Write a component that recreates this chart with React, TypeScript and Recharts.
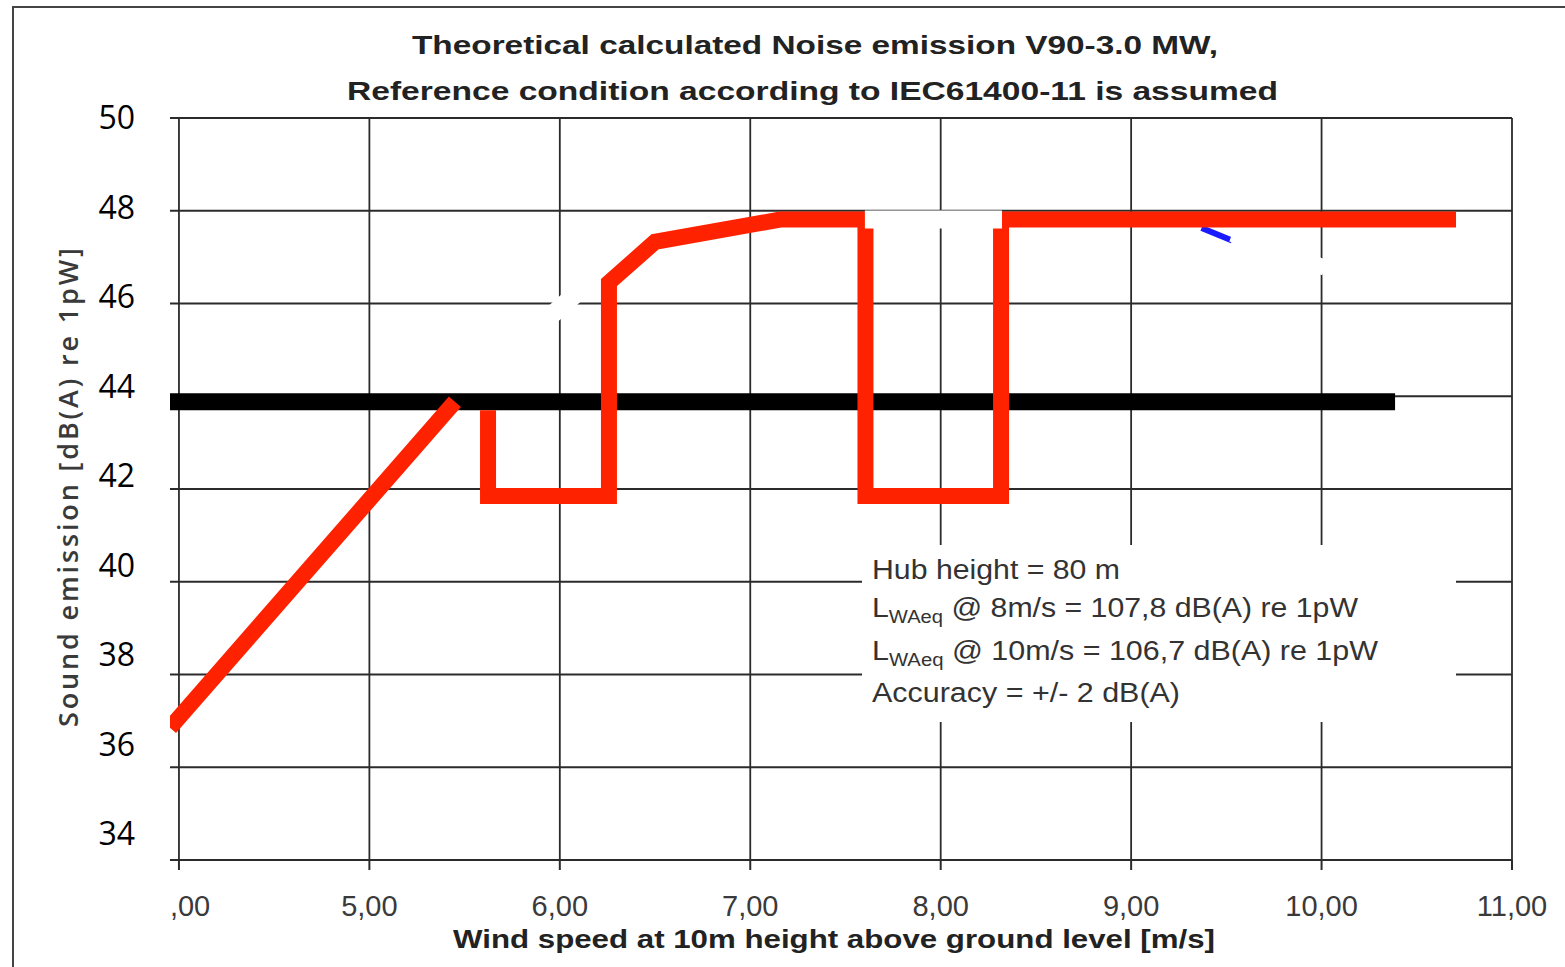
import React from 'react';
import { LineChart, Line, XAxis, YAxis, CartesianGrid } from 'recharts';

// ---- Data ----
const xTicks = [4, 5, 6, 7, 8, 9, 10, 11];
const xTickLabels = [',00', '5,00', '6,00', '7,00', '8,00', '9,00', '10,00', '11,00'];
const yTicks = [34, 36, 38, 40, 42, 44, 46, 48, 50];
const yTickLabels = ['34', '36', '38', '40', '42', '44', '46', '48', '50'];

// red (modified operation) curve, null = break
const noiseCurve = [
  { x: 3.953, y: 36.85 },
  { x: 5.449, y: 43.88 },
  { x: 5.5, y: null },
  { x: 5.623, y: 43.7 },
  { x: 5.623, y: 41.85 },
  { x: 6.258, y: 41.85 },
  { x: 6.258, y: 46.45 },
  { x: 6.5, y: 47.33 },
  { x: 7.156, y: 47.81 },
  { x: 7.605, y: 47.81 },
  { x: 7.605, y: 41.85 },
  { x: 8.317, y: 41.85 },
  { x: 8.317, y: 47.81 },
  { x: 10.706, y: 47.81 },
];
// black limit line
const limitLine = [
  { x: 3.953, y: 43.88 },
  { x: 10.386, y: 43.88 },
];
// remnant of the original (blue) curve
const originalCurveTrace = [
  { x: 9.37, y: 47.63 },
  { x: 9.53, y: 47.36 },
];
// white erasures over the original curve
const erasedLow = [
  { x: 5.764, y: 45.06 },
  { x: 6.211, y: 46.66 },
];
const erasedHigh = [
  { x: 9.53, y: 47.5 },
  { x: 10.018, y: 46.77 },
];
const erasedTop = [
  { x: 7.602, y: 47.81 },
  { x: 8.322, y: 47.81 },
];

const titleLines = [
  'Theoretical calculated Noise emission V90-3.0 MW,',
  'Reference condition according to IEC61400-11 is assumed',
];
const xLabel = 'Wind speed at 10m height above ground level [m/s]';
const yLabel = 'Sound emission [dB(A) re 1pW]';
const annotation = {
  hub: 'Hub height = 80 m',
  lw8: ' @ 8m/s = 107,8 dB(A) re 1pW',
  lw10: ' @ 10m/s = 106,7 dB(A) re 1pW',
  acc: 'Accuracy = +/- 2 dB(A)',
  sym: 'L',
  sub: 'WAeq',
};

const XTick = (props: any) => {
  const { x, y, payload } = props;
  const idx = xTicks.indexOf(payload.value);
  const label = idx >= 0 ? xTickLabels[idx] : String(payload.value);
  const first = idx === 0;
  return (
    <text
      x={first ? x - 9 : x}
      y={y}
      dy="0.71em"
      textAnchor={first ? 'start' : 'middle'}
      fontSize={29}
      fill="#3a3a3a"
      fontFamily="'Liberation Sans', Arial, sans-serif"
    >
      {label}
    </text>
  );
};

// the y labels in the source were pasted with a slightly tighter pitch than the grid
const YTick = (props: any) => {
  const { x, y, payload } = props;
  const idx = yTicks.indexOf(payload.value);
  const label = idx >= 0 ? yTickLabels[idx] : String(payload.value);
  const shift = -(50 - payload.value) * 1.62;
  return (
    <text
      x={x}
      y={y + shift}
      dy="0.355em"
      textAnchor="end"
      fontSize={32}
      fill="#000"
      fontFamily="'Open Sans', 'Noto Sans', sans-serif"
    >
      {label}
    </text>
  );
};

const lineCommon = {
  type: 'linear' as const,
  dataKey: 'y',
  dot: false,
  activeDot: false,
  isAnimationActive: false,
  strokeLinecap: 'butt' as const,
  strokeLinejoin: 'miter' as const,
  legendType: 'none' as const,
};

export default function App() {
  const W = 1565;
  const H = 967;
  const yAxisW = 80;
  const xAxisH = 50;
  return (
    <div
      style={{
        position: 'absolute',
        left: 0,
        top: 0,
        width: W,
        height: H,
        background: '#fff',
        fontFamily: "'Liberation Sans', Arial, sans-serif",
      }}
    >
      <LineChart
        width={W}
        height={H}
        margin={{ top: 118, right: 53, bottom: 107 - xAxisH, left: 170 - yAxisW }}
      >
        <CartesianGrid stroke="#2b2b2b" strokeWidth={1.8} fill="#fff" syncWithTicks />
        <XAxis
          type="number"
          dataKey="x"
          domain={[3.953, 11]}
          allowDataOverflow
          ticks={xTicks}
          height={xAxisH}
          axisLine={{ stroke: '#2b2b2b', strokeWidth: 2 }}
          tickLine={{ stroke: '#2b2b2b', strokeWidth: 2 }}
          tickSize={10}
          tickMargin={25}
          tick={<XTick />}
          interval={0}
        />
        <YAxis
          type="number"
          domain={[34, 50]}
          allowDataOverflow
          ticks={yTicks}
          width={yAxisW}
          axisLine={false}
          tickLine={false}
          tickSize={0}
          tickMargin={35}
          interval={0}
          tick={<YTick />}
        />
        <Line {...lineCommon} data={originalCurveTrace} stroke="#1a1aff" strokeWidth={6} />
        <Line {...lineCommon} data={erasedLow} stroke="#ffffff" strokeWidth={18} />
        <Line {...lineCommon} data={erasedHigh} stroke="#ffffff" strokeWidth={16} />
        <Line {...lineCommon} data={limitLine} stroke="#000000" strokeWidth={17} />
        <Line {...lineCommon} data={noiseCurve} stroke="#ff2200" strokeWidth={16} connectNulls={false} />
        <Line {...lineCommon} data={erasedTop} stroke="#ffffff" strokeWidth={18} />
      </LineChart>

      <svg
        width={W}
        height={H}
        style={{ position: 'absolute', left: 0, top: 0, pointerEvents: 'none' }}
      >
        {/* outer frame */}
        <line x1={12} y1={7} x2={W} y2={7} stroke="#444" strokeWidth={2} />
        <line x1={13} y1={6} x2={13} y2={H} stroke="#444" strokeWidth={2} />

        {/* title */}
        <text x={412} y={54} fontSize={26} fontWeight="bold" fill="#222" textLength={806} lengthAdjust="spacingAndGlyphs">
          {titleLines[0]}
        </text>
        <text x={347} y={100} fontSize={26} fontWeight="bold" fill="#222" textLength={931} lengthAdjust="spacingAndGlyphs">
          {titleLines[1]}
        </text>

        {/* x label */}
        <text x={453} y={948} fontSize={26} fontWeight="bold" fill="#222" textLength={762} lengthAdjust="spacingAndGlyphs">
          {xLabel}
        </text>

        {/* y label */}
        <text
          transform="translate(78, 487.5) rotate(-90)"
          textAnchor="middle"
          fontSize={27}
          fontWeight={600}
          fill="#3a3a3a"
          fontFamily="'Open Sans', 'Noto Sans', sans-serif"
          textLength={479}
          lengthAdjust="spacing"
        >
          {yLabel}
        </text>

        {/* annotation box */}
        <rect x={862} y={545} width={594} height={177} fill="#fff" />
        <g fontSize={27} fill="#333">
          <text x={872} y={579} textLength={248} lengthAdjust="spacingAndGlyphs">
            {annotation.hub}
          </text>
          <text x={872} y={617} textLength={486} lengthAdjust="spacingAndGlyphs">
            {annotation.sym}
            <tspan fontSize={18} dy={6}>{annotation.sub}</tspan>
            <tspan dy={-6}>{annotation.lw8}</tspan>
          </text>
          <text x={872} y={660} textLength={506} lengthAdjust="spacingAndGlyphs">
            {annotation.sym}
            <tspan fontSize={18} dy={6}>{annotation.sub}</tspan>
            <tspan dy={-6}>{annotation.lw10}</tspan>
          </text>
          <text x={872} y={702} textLength={308} lengthAdjust="spacingAndGlyphs">
            {annotation.acc}
          </text>
        </g>
      </svg>
    </div>
  );
}
